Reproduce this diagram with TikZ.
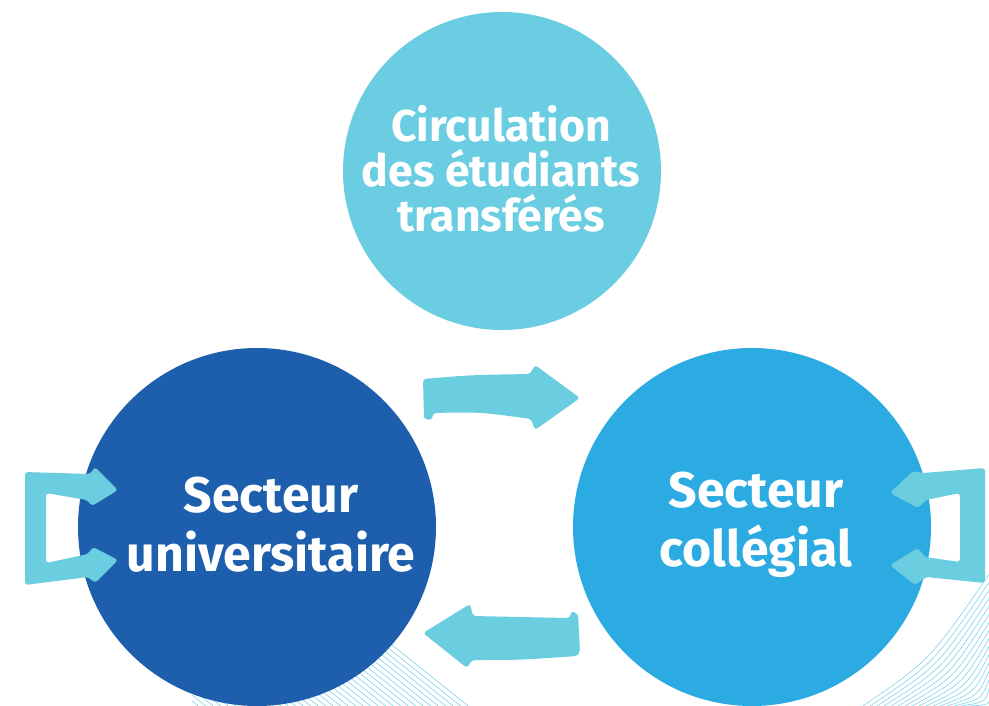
\documentclass[tikz,border=0pt]{standalone}
\usepackage{fontspec}
\setmainfont{Fira Sans}
\definecolor{topc}{HTML}{6BCDE1}
\definecolor{leftc}{HTML}{1D5FAC}
\definecolor{rightc}{HTML}{2CABE2}
\definecolor{arrc}{HTML}{6BCDE0}
\definecolor{hatc}{HTML}{82D3E7}
\begin{document}
\begin{tikzpicture}[x=1pt,y=-1pt,
  hatch/.style={draw=hatc,line width=0.6pt},
  bubble/.style={circle,inner sep=0pt,draw=none},
  label/.style={text=white,align=center,inner sep=0pt},
  bigarrow/.style={fill=arrc,draw=none,rounded corners=3pt}]
\useasboundingbox (0,0) rectangle (989,705);
% hatching
\begin{scope}
\clip (192,600) rectangle (480,705);
\foreach \k in {0,...,40}
  \draw[hatch] ({467-7.5*\k-150},585) -- ({467-7.5*\k+30},729);
\end{scope}
\begin{scope}
\clip (840,540) rectangle (989,705);
\foreach \k in {0,...,18}
  \draw[hatch] ({863+7*\k},706) .. controls ({930+4*\k},{660+3*\k}) .. (990,{573+8*\k});
\end{scope}
% circles
\node[bubble,fill=topc,minimum size=318pt] (top) at (502,171) {};
\node[bubble,fill=leftc,minimum size=358pt] (univ) at (257,527) {};
\node[bubble,fill=rightc,minimum size=358pt] (coll) at (752,527) {};
% texts
\node[label,font=\fontsize{44.5}{45}\selectfont\bfseries] (toptxt) at (501,169) {Circulation\\des étudiants\\transférés};
\node[label,font=\fontsize{50}{59}\selectfont\bfseries] (univtxt) at (271,525) {Secteur\\universitaire};
\node[label,font=\fontsize{50}{59}\selectfont\bfseries] (colltxt) at (756,525) {Secteur\\collégial};
% arrows
\fill[bigarrow] (423,379) .. controls (470,375) .. (530,374) -- (535,365) -- (580,398) -- (535,430) -- (531,419) .. controls (480,412) .. (433,413) -- (432,420) -- (424,419) -- cycle;
\fill[bigarrow] (423,633) -- (470,604) -- (473,616) .. controls (520,617) .. (570,618) -- (571,611) -- (578,614) -- (580,652) -- (577,656) .. controls (520,660) .. (472,660) -- (467,668) -- cycle;
\fill[bigarrow] (25,472) -- (90,474) -- (95,467) -- (118,490) -- (92,506) -- (87,500) -- (46,493) -- (46,563) -- (88,554) -- (93,547) -- (118,560) -- (95,583) -- (88,577) -- (25,585) -- cycle;
\fill[bigarrow] (985,468) -- (923,473) -- (913,471) -- (890,493) -- (918,508) -- (926,500) -- (960,493) -- (960,562) -- (925,557) -- (918,548) -- (890,565) -- (915,585) -- (926,577) -- (985,583) -- cycle;
\end{tikzpicture}
\end{document}
